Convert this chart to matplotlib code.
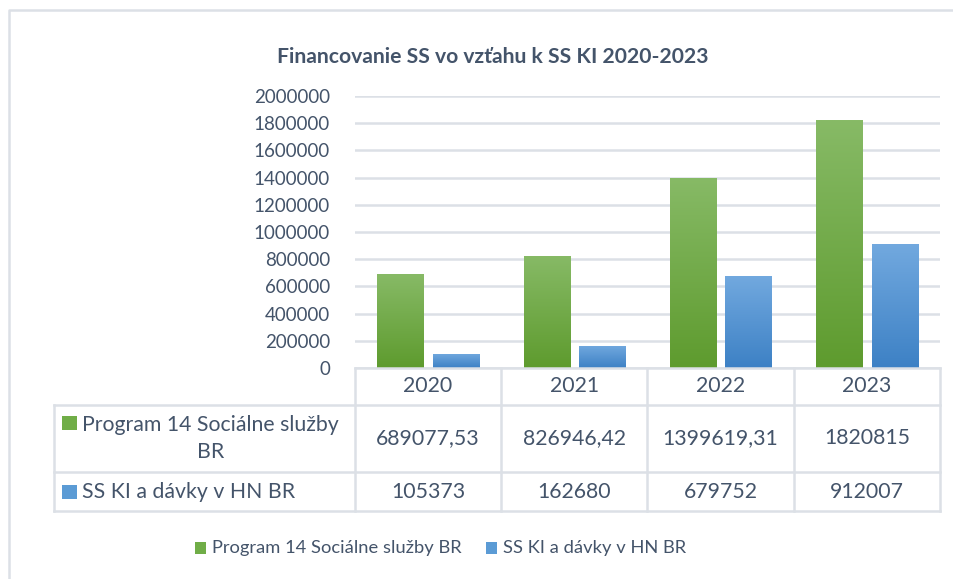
import textwrap

import matplotlib
matplotlib.use("Agg")
import matplotlib.pyplot as plt
from matplotlib.patches import Rectangle
import numpy as np

# data
years = ["2020", "2021", "2022", "2023"]
series_names = ["Program 14 Sociálne služby BR", "SS KI a dávky v HN BR"]
program14 = [689077.53, 826946.42, 1399619.31, 1820815]
ss_ki = [105373, 162680, 679752, 912007]
y_ticks = [0, 200000, 400000, 600000, 800000, 1000000,
           1200000, 1400000, 1600000, 1800000, 2000000]

txt_col = "#44546A"
line_col = "#DCE0E6"
grad_cols = [("#87BA66", "#5E9B2E"), ("#72A9DF", "#3D81C5")]
solid_cols = ["#70AD47", "#5B9BD5"]

plt.rcParams["font.family"] = ["Lato", "DejaVu Sans"]

W, H = 954, 579
fig = plt.figure(figsize=(W / 100, H / 100), dpi=100)

# main plot area in pixel positions
L, R, T, B = 355, 940, 96, 368
ax = fig.add_axes([L / W, 1 - B / H, (R - L) / W, (B - T) / H])
ax.set_xlim(-0.5, len(years) - 0.5)
ax.set_ylim(0, 2000000)
ax.set_yticks(y_ticks)
ax.set_yticklabels([str(v) for v in y_ticks], color=txt_col, fontsize=13.5)
ax.tick_params(axis="y", length=0, pad=18)
ax.set_xticks([])
for s in ax.spines.values():
    s.set_visible(False)
ax.yaxis.grid(True, color=line_col, linewidth=1.8)
ax.set_axisbelow(True)

x = np.arange(len(years))
bw = 0.315
off = 0.19


def grad_img(c_top, c_bot):
    top = np.array(matplotlib.colors.to_rgb(c_top))
    bot = np.array(matplotlib.colors.to_rgb(c_bot))
    t = np.linspace(0, 1, 100)[:, None]
    return (top * (1 - t) + bot * t)[:, None, :]


for vals, dx, (ct, cb) in zip([program14, ss_ki], [-off, off], grad_cols):
    bars = ax.bar(x + dx, vals, width=bw, color="none", edgecolor="none", zorder=2)
    for rect in bars:
        im = ax.imshow(grad_img(ct, cb), aspect="auto", zorder=2,
                       extent=(rect.get_x(), rect.get_x() + rect.get_width(),
                               0, rect.get_height()))
        im.set_clip_path(rect)
ax.set_xlim(-0.5, len(years) - 0.5)
ax.set_ylim(0, 2000000)

# overlay in pixel coordinates for title, table, legend, border
ov = fig.add_axes([0, 0, 1, 1], zorder=3)
ov.set_xlim(0, W)
ov.set_ylim(H, 0)
ov.axis("off")
ov.patch.set_alpha(0)

# chart border
ov.plot([9, 9, W + 5], [H + 5, 10, 10], color=line_col, lw=1.8)

ov.text(493, 57, "Financovanie SS vo vzťahu k SS KI 2020-2023", ha="center",
        va="center", fontsize=15.2, fontweight="bold", color=txt_col)

# data table
to_px = ax.transData + ov.transData.inverted()
edges = [to_px.transform((e, 0))[0] for e in np.arange(len(years) + 1) - 0.5]
row_y = [368, 405, 472, 511]
tab_left = 54
tab_fs = 15.3

ov.plot([edges[0], edges[-1]], [row_y[0]] * 2, color=line_col, lw=1.8)
for yy in row_y[1:]:
    ov.plot([tab_left, edges[-1]], [yy, yy], color=line_col, lw=1.8)
ov.plot([tab_left, tab_left], [row_y[1], row_y[-1]], color=line_col, lw=1.8)
for e in edges:
    ov.plot([e, e], [row_y[0], row_y[-1]], color=line_col, lw=1.8)


def fmt(v):
    if float(v).is_integer():
        return str(int(v))
    return ("%.2f" % v).replace(".", ",")


for i, yr in enumerate(years):
    cx = (edges[i] + edges[i + 1]) / 2
    ov.text(cx, (row_y[0] + row_y[1]) / 2, yr, ha="center", va="center",
            fontsize=tab_fs, color=txt_col)
    for r, vals in enumerate([program14, ss_ki]):
        cy = (row_y[r + 1] + row_y[r + 2]) / 2
        ov.text(cx, cy, fmt(vals[i]), ha="center", va="center",
                fontsize=tab_fs, color=txt_col)

label_tops = [423, 492]
for r, name in enumerate(series_names):
    cy = (row_y[r + 1] + row_y[r + 2]) / 2
    ov.text(82, cy, textwrap.fill(name, 26), ha="left", va="center",
            multialignment="center", fontsize=tab_fs, color=txt_col,
            linespacing=1.45)
    ov.add_patch(Rectangle((62, label_tops[r] - 7), 15, 14,
                           color=solid_cols[r], lw=0))

# legend
leg_sq = [195, 486]
for r, name in enumerate(series_names):
    ov.add_patch(Rectangle((leg_sq[r], 542), 11, 12, color=solid_cols[r], lw=0))
    ov.text(leg_sq[r] + 17, 548, name, ha="left", va="center",
            fontsize=13.2, color=txt_col)

fig.savefig("out.png", dpi=100)
